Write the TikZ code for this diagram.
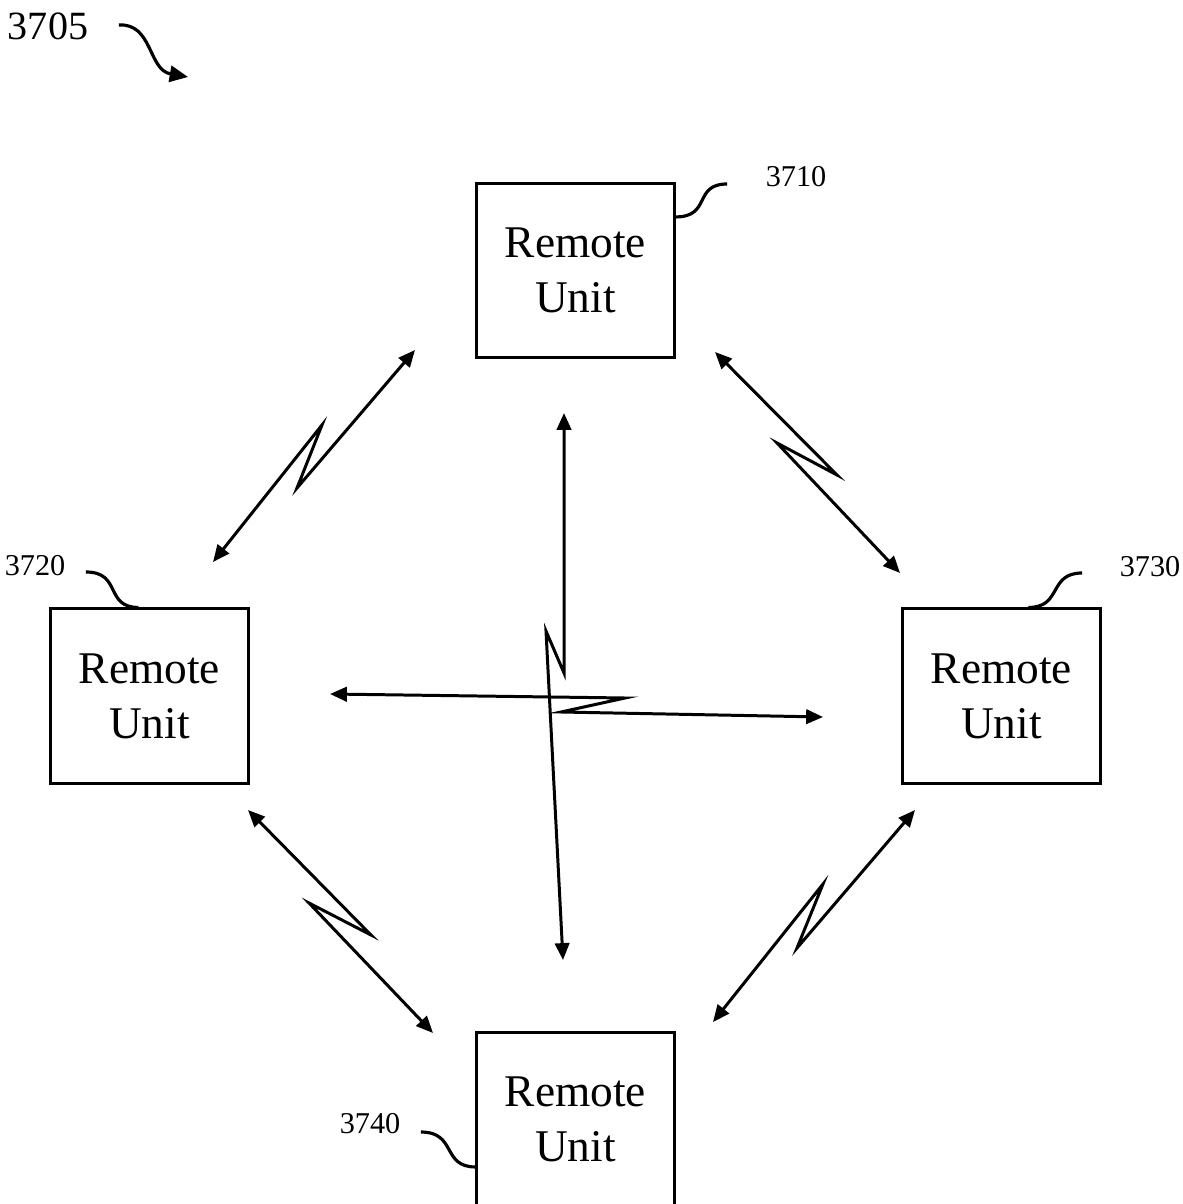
\documentclass[tikz,border=0pt]{standalone}
\usepackage{fontspec}
\setmainfont{Liberation Serif}
\usetikzlibrary{arrows.meta,calc}

\begin{document}
\begin{tikzpicture}[
  x=0.01cm, y=-0.01cm,
  every node/.style={align=center},
  unit/.style={draw=black, line width=0.85pt, minimum width=1.97cm, minimum height=1.74cm,
               inner sep=0pt, font=\fontsize{12.9}{15.6}\selectfont},
  refnum/.style={inner sep=0pt, anchor=base, font=\fontsize{8.6}{10}\selectfont},
  link/.style={{Triangle[length=4.8pt,width=4.1pt]}-{Triangle[length=4.8pt,width=4.1pt]}, line width=0.85pt},
  callout/.style={line width=0.9pt},
]
  \useasboundingbox (0,0) rectangle (1183,1204);

  % remote units
  \node[unit] (u3710) at (575.5,270.5) {Remote\\Unit};
  \node[unit] (u3720) at (149.5,696) {Remote\\Unit};
  \node[unit] (u3730) at (1001.5,696) {Remote\\Unit};
  \node[unit] (u3740) at (575.5,1119.5) {Remote\\Unit};

  % reference numerals
  \node[refnum, font=\fontsize{11.4}{13}\selectfont] (n3705) at (48,40) {3705};
  \node[refnum] (n3710) at (796,187) {3710};
  \node[refnum] (n3720) at (35,575) {3720};
  \node[refnum] (n3730) at (1150,577) {3730};
  \node[refnum] (n3740) at (370,1133) {3740};

  % wireless link ends
  \coordinate (t1a) at (415,350);  \coordinate (t1b) at (213,562);
  \coordinate (t2a) at (715,352);  \coordinate (t2b) at (900,573);
  \coordinate (t3a) at (248,810);  \coordinate (t3b) at (433,1033);
  \coordinate (t4a) at (915,810);  \coordinate (t4b) at (713,1022);
  \coordinate (t5a) at (564,413);  \coordinate (t5b) at (563,960);
  \coordinate (t6a) at (330,694);  \coordinate (t6b) at (823,717);

  \draw[link] (t1a) -- (297,488) -- (322,425) -- (t1b);
  \draw[link] (t2a) -- (837,475) -- (777,443) -- (t2b);
  \draw[link] (t3a) -- (371,935) -- (309,903) -- (t3b);
  \draw[link] (t4a) -- (797,948) -- (823,884) -- (t4b);
  \draw[link] (t5a) -- (564,673) -- (546,631) -- (t5b);
  \draw[link] (t6a) -- (625,698) -- (561,712) -- (t6b);

  % leaders
  \draw[callout, -{Triangle[length=5.2pt,width=4.6pt]}] ($(n3705.base east)+(30,-15)$)
    .. controls +(34,-2) and (148,70) .. (188,77);
  \draw[callout] ($(u3710.north east)+(0,35)$) .. controls +(36,0) and +(-34,0) .. ($(n3710.base west)+(-38,-3)$);
  \draw[callout] ($(n3720.base east)+(20,-3)$) .. controls +(36,0) and +(-34,0) .. ($(u3720.north west)+(89,0)$);
  \draw[callout] ($(u3730.north west)+(127,0)$) .. controls +(34,0) and +(-34,0) .. ($(n3730.base west)+(-37,-4)$);
  \draw[callout] ($(n3740.base east)+(20,-1)$) .. controls +(36,0) and +(-34,0) .. ($(u3740.north west)+(0,136)$);
\end{tikzpicture}
\end{document}
